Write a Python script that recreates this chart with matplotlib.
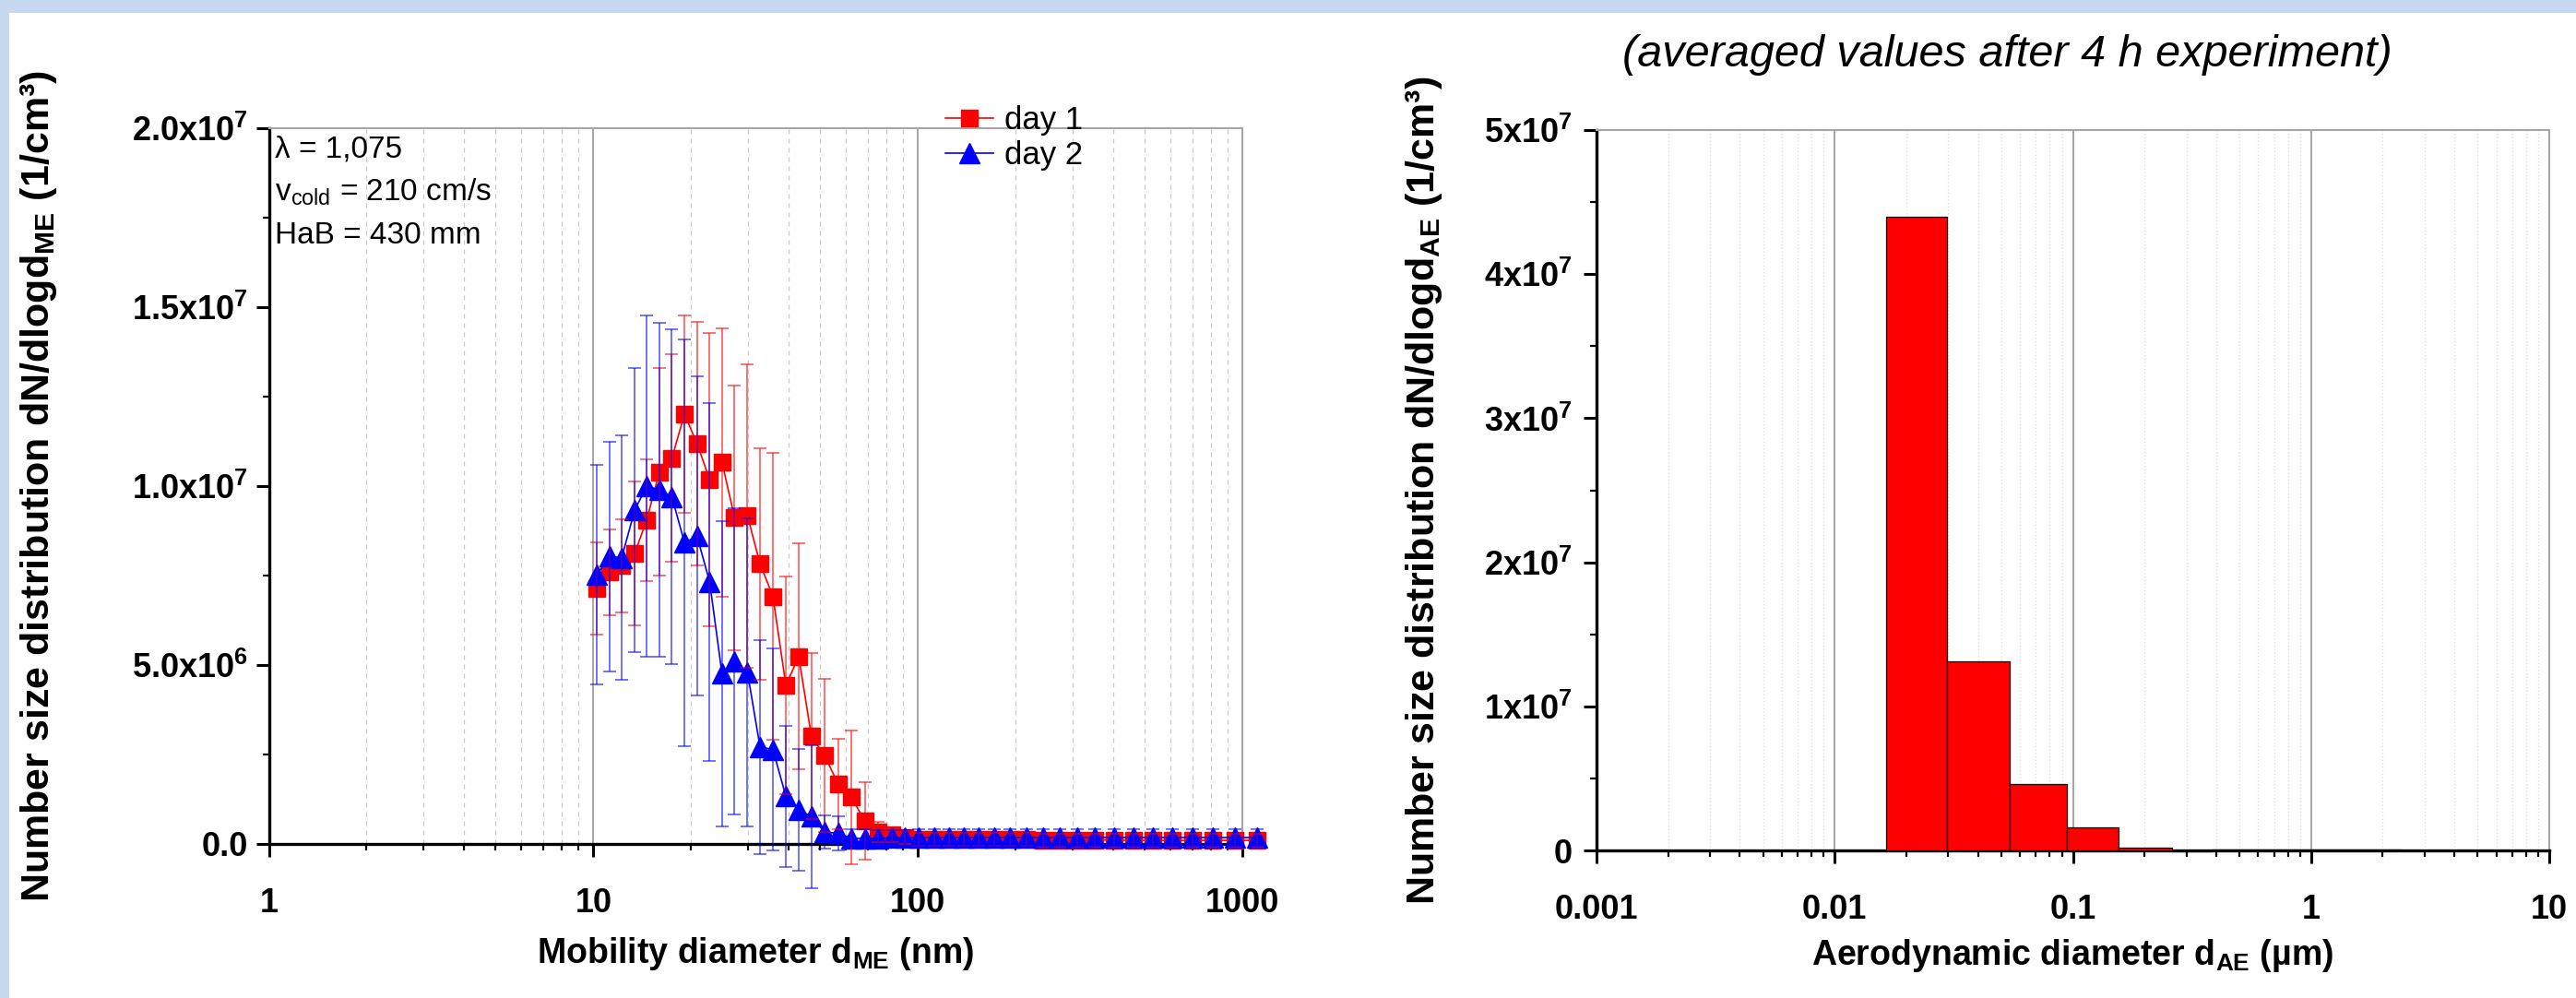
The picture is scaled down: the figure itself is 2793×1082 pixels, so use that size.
import matplotlib
matplotlib.use("Agg")
import matplotlib.pyplot as plt
from matplotlib.lines import Line2D
from matplotlib.patches import Rectangle
from matplotlib.ticker import AutoMinorLocator, LogLocator, NullFormatter

plt.rcParams['font.family'] = ['Liberation Sans', 'DejaVu Sans']
plt.rcParams['mathtext.fontset'] = 'custom'
plt.rcParams['mathtext.rm'] = 'Liberation Sans'
plt.rcParams['mathtext.bf'] = 'Liberation Sans:bold'

# --- SMPS: mobility diameter (nm), dN/dlogd in units of 1e6 1/cm3 ---
d_me = [10.25, 11.21, 12.23, 13.41, 14.60, 15.97, 17.46, 19.09, 20.87, 22.83,
        24.91, 27.24, 29.85, 32.63, 35.76, 39.20, 42.95, 46.98, 51.58, 56.79,
        62.36, 68.65, 75.56, 83.17, 91.38, 100.8, 112.3, 124.5, 138.2, 154.2,
        171.9, 192.6, 216.1, 242.6, 273.5, 309.7, 351.6, 402.4, 460.7, 528.5,
        609.0, 701.6, 813.7, 948.0, 1109.0]
day1 = [7.14, 7.60, 7.78, 8.12, 9.05, 10.39, 10.78, 12.01, 11.19, 10.18,
        10.67, 9.12, 9.17, 7.83, 6.92, 4.43, 5.24, 3.01, 2.47, 1.68,
        1.31, 0.64, 0.34, 0.26, 0.17, 0.14, 0.13, 0.13, 0.12, 0.12,
        0.12, 0.12, 0.12, 0.11, 0.11, 0.11, 0.11, 0.11, 0.10, 0.10,
        0.10, 0.10, 0.10, 0.10, 0.10]
day1_err = [1.30, 1.20, 1.30, 2.00, 1.70, 2.90, 2.90, 2.75, 3.40, 4.10,
            3.75, 3.70, 4.24, 3.23, 4.00, 3.05, 3.15, 2.32, 2.14, 1.26,
            1.87, 1.09, 0.29, 0.21, 0.18, 0.18, 0.18, 0.18, 0.18, 0.18,
            0.18, 0.18, 0.18, 0.18, 0.18, 0.18, 0.18, 0.18, 0.18, 0.18,
            0.18, 0.18, 0.18, 0.18, 0.18]
day2 = [7.52, 8.03, 8.00, 9.33, 10.00, 9.90, 9.70, 8.42, 8.60, 7.32,
        4.76, 5.10, 4.80, 2.71, 2.64, 1.33, 0.95, 0.77, 0.33, 0.30,
        0.16, 0.15, 0.16, 0.17, 0.17, 0.18, 0.18, 0.18, 0.18, 0.18,
        0.18, 0.18, 0.18, 0.18, 0.18, 0.18, 0.18, 0.18, 0.18, 0.18,
        0.18, 0.18, 0.18, 0.18, 0.18]
day2_err = [3.06, 3.20, 3.42, 3.96, 4.78, 4.67, 4.68, 5.69, 4.46, 5.00,
            4.27, 4.27, 4.30, 2.99, 2.83, 1.98, 1.70, 2.00, 0.47, 0.47,
            0.25, 0.25, 0.22, 0.22, 0.22, 0.22, 0.22, 0.22, 0.22, 0.22,
            0.22, 0.22, 0.22, 0.22, 0.22, 0.22, 0.22, 0.22, 0.22, 0.22,
            0.22, 0.22, 0.22, 0.22, 0.22]
UNIT = 1e6

# --- ELPI: aerodynamic diameter bin edges (um), dN/dlogd (1/cm3) ---
elpi_edges = [0.001, 0.006, 0.0165, 0.0296, 0.0544, 0.0946, 0.155, 0.26,
              0.381, 0.612, 0.946, 1.60, 2.39, 3.99, 6.68, 10.0]
elpi_vals = [0, 0, 4.40e7, 1.31e7, 4.6e6, 1.6e6, 2.0e5, -8e4,
             5e4, 5e4, 4e4, 4e4, 3e4, 3e4, 3e4]

left_yticks = [0, 5e6, 1e7, 1.5e7, 2e7]
left_ylabels = ['0.0', r'$\mathbf{5.0x10^{6}}$', r'$\mathbf{1.0x10^{7}}$',
                r'$\mathbf{1.5x10^{7}}$', r'$\mathbf{2.0x10^{7}}$']
right_yticks = [0, 1e7, 2e7, 3e7, 4e7, 5e7]
right_ylabels = ['0'] + [r'$\mathbf{%dx10^{7}}$' % i for i in range(1, 6)]

W, H = 2793, 1082
fig = plt.figure(figsize=(W / 100, H / 100), dpi=100)
fig.patch.set_facecolor('white')
band = '#c6d9f1'
fig.patches.append(Rectangle((0, 1 - 14 / H), 1, 14 / H, transform=fig.transFigure,
                             facecolor=band, edgecolor='none'))
fig.patches.append(Rectangle((0, 0), 10 / W, 1, transform=fig.transFigure,
                             facecolor=band, edgecolor='none'))

ax1 = fig.add_axes([291.5 / W, (H - 915) / H, (1347 - 291.5) / W, (915 - 139) / H])
ax2 = fig.add_axes([1731 / W, (H - 922) / H, (2764 - 1731) / W, (922 - 141) / H])

tick_font = 26
label_font = 27
ylabel_font = 31


def style_axes(ax):
    ax.set_xscale('log')
    ax.set_axisbelow(True)
    for s in ['left', 'bottom']:
        ax.spines[s].set_linewidth(2.4)
        ax.spines[s].set_color('black')
    for s in ['top', 'right']:
        ax.spines[s].set_linewidth(1.5)
        ax.spines[s].set_color('#a6a6a6')
    ax.tick_params(which='major', direction='out', length=10, width=2.2,
                   labelsize=tick_font, top=False, right=False)
    ax.tick_params(which='minor', direction='out', length=5, width=1.6,
                   top=False, right=False)
    ax.tick_params(axis='x', which='major', pad=24)
    ax.xaxis.set_minor_locator(LogLocator(base=10, subs=range(2, 10), numticks=20))
    ax.xaxis.set_minor_formatter(NullFormatter())
    ax.yaxis.set_minor_locator(AutoMinorLocator(2))


# ---------------- left: SMPS ----------------
style_axes(ax1)
ax1.grid(True, which='major', axis='x', color='#a6a6a6', lw=1.4, ls='-')
ax1.grid(True, which='minor', axis='x', color='#c8c8c8', lw=0.9, ls=(0, (4, 4)))

y1 = [v * UNIT for v in day1]
e1 = [v * UNIT for v in day1_err]
y2 = [v * UNIT for v in day2]
e2 = [v * UNIT for v in day2_err]

ax1.plot(d_me, y1, color='red', lw=1.2, marker='s', ms=13, mec='red',
         mfc='red', clip_on=False, zorder=3)
ax1.plot(d_me, y2, color='blue', lw=1.2, marker='^', ms=16, mec='blue',
         mfc='blue', clip_on=False, zorder=4)
for y, e, c in [(y1, e1, 'red'), (y2, e2, 'blue')]:
    eb = ax1.errorbar(d_me, y, yerr=e, fmt='none', ecolor=c, elinewidth=1.1,
                      capsize=4.7, capthick=1.1, alpha=0.7, zorder=5)
    for art in list(eb[1]) + list(eb[2]):
        art.set_clip_on(False)

ax1.set_xlim(1, 1000)
ax1.set_ylim(0, 2e7)
ax1.set_xticks([1, 10, 100, 1000])
ax1.set_xticklabels(['1', '10', '100', '1000'], fontweight='bold', fontsize=tick_font)
ax1.set_yticks(left_yticks)
ax1.set_yticklabels(left_ylabels, fontweight='bold', fontsize=tick_font)
ax1.tick_params(axis='y', which='major', pad=6)

ax1.set_xlabel(r'Mobility diameter d$_{\mathbf{ME}}$ (nm)', fontsize=label_font,
               fontweight='bold')
ax1.xaxis.set_label_coords(0.5, -0.128)
ax1.set_ylabel(r'Number size distribution dN/dlogd$_{\mathbf{ME}}$ (1/cm³)',
               fontsize=ylabel_font, fontweight='bold')
ax1.yaxis.set_label_coords(-0.2155, 0.5)

ax1.text(0.006, 0.970, 'λ = 1,075', transform=ax1.transAxes, fontsize=24, va='center')
ax1.text(0.006, 0.911, r'v$_{\mathrm{cold}}$ = 210 cm/s', transform=ax1.transAxes,
         fontsize=24, va='center')
ax1.text(0.006, 0.850, 'HaB = 430 mm', transform=ax1.transAxes, fontsize=24, va='center')

handles = [Line2D([], [], color='red', lw=1.2, marker='s', ms=13),
           Line2D([], [], color='blue', lw=1.2, marker='^', ms=16)]
ax1.legend(handles, ['day 1', 'day 2'], loc='center left', bbox_to_anchor=(0.695, 0.986),
           frameon=False, borderpad=0, borderaxespad=0, handlelength=1.5,
           handletextpad=0.35, labelspacing=0.15, prop={'size': 25})

# ---------------- right: ELPI ----------------
style_axes(ax2)
ax2.grid(True, which='major', axis='x', color='#a6a6a6', lw=1.4, ls='-')
ax2.grid(True, which='minor', axis='x', color='#dedede', lw=0.9, ls=(0, (1, 2)))

widths = [elpi_edges[i + 1] - elpi_edges[i] for i in range(len(elpi_vals))]
bars = ax2.bar(elpi_edges[:-1], elpi_vals, width=widths, align='edge',
               color='red', edgecolor='black', linewidth=0.9, zorder=3)
for b in bars:
    b.set_clip_on(False)

ax2.set_xlim(0.001, 10)
ax2.set_ylim(0, 5e7)
ax2.set_xticks([0.001, 0.01, 0.1, 1, 10])
ax2.set_xticklabels(['0.001', '0.01', '0.1', '1', '10'], fontweight='bold',
                    fontsize=tick_font)
ax2.set_yticks(right_yticks)
ax2.set_yticklabels(right_ylabels, fontweight='bold', fontsize=tick_font)
ax2.tick_params(axis='y', which='major', pad=9)

ax2.set_xlabel(r'Aerodynamic diameter d$_{\mathbf{AE}}$ (µm)', fontsize=label_font,
               fontweight='bold')
ax2.xaxis.set_label_coords(0.5, -0.120)
ax2.set_ylabel(r'Number size distribution dN/dlogd$_{\mathbf{AE}}$ (1/cm³)',
               fontsize=ylabel_font, fontweight='bold')
ax2.yaxis.set_label_coords(-0.160, 0.5)

fig.text(2176 / W, 1 - 59 / H, '(averaged values after 4 h experiment)',
         fontsize=35, style='italic', ha='center', va='center')

fig.savefig('out.png', dpi=100)
